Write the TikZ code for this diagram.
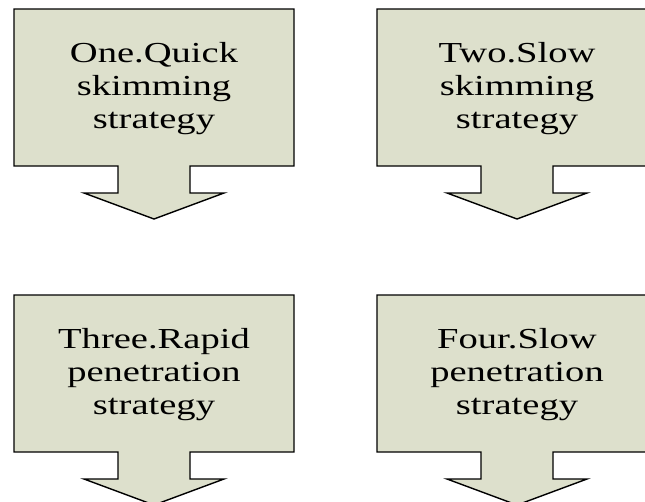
\documentclass[tikz,border=0pt]{standalone}
\usepackage{fontspec}
\setmainfont{Liberation Serif}
\newfontfamily\widefont[FakeStretch=1.33]{Liberation Serif}
\definecolor{calloutfill}{HTML}{DDE0CC}
\tikzset{
  callout/.style={draw=black, line width=1.4pt, fill=calloutfill, line join=miter},
  callouttext/.style={align=center, font=\widefont\fontsize{29}{33}\selectfont, inner sep=0pt}
}
% down-arrow callout: centre x, top y, node name, text
\newcommand{\downcallout}[4]{%
  \draw[callout] (#1-140,#2) -- (#1+140,#2) -- (#1+140,#2+157) -- (#1+36,#2+157)
    -- (#1+36,#2+184) -- (#1+70,#2+184) -- (#1,#2+210) -- (#1-70,#2+184)
    -- (#1-36,#2+184) -- (#1-36,#2+157) -- (#1-140,#2+157) -- cycle;
  \node[callouttext] (#3) at (#1,#2+80) {#4};%
}
\begin{document}
\begin{tikzpicture}[x=1pt,y=-1pt]
  \useasboundingbox (0,0) rectangle (645,501);
  \clip (0,0) rectangle (645,501);
  \downcallout{154}{9}{one}{One.Quick\\skimming\\strategy}
  \downcallout{517}{9}{two}{Two.Slow\\skimming\\strategy}
  \downcallout{154}{295}{three}{Three.Rapid\\penetration\\strategy}
  \downcallout{517}{295}{four}{Four.Slow\\penetration\\strategy}
\end{tikzpicture}
\end{document}
